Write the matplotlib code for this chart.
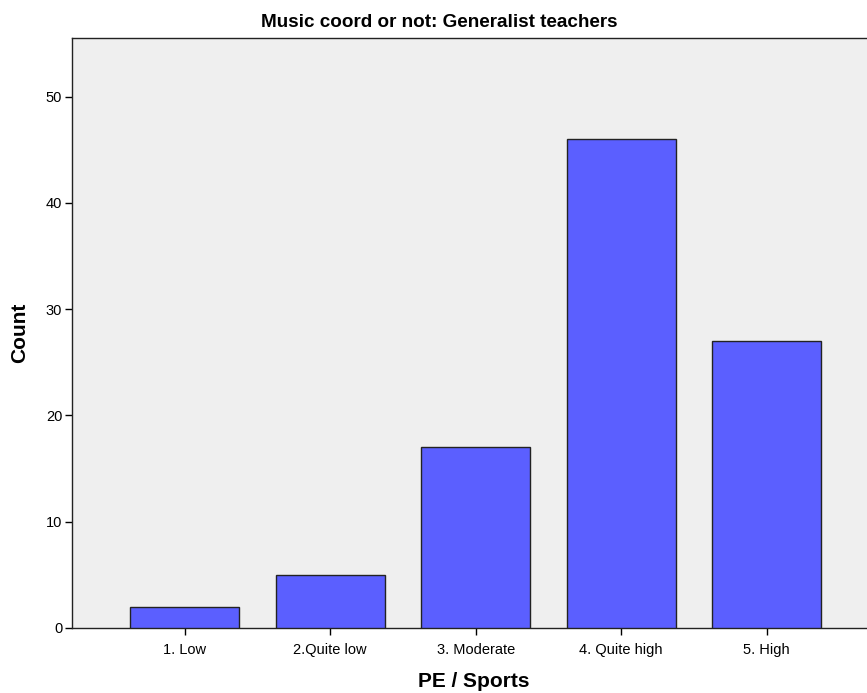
import matplotlib
matplotlib.use('Agg')
import matplotlib.pyplot as plt

plt.rcParams['font.family'] = ['Liberation Sans', 'DejaVu Sans']

CATEGORIES = ['1. Low', '2.Quite low', '3. Moderate', '4. Quite high', '5. High']
COUNTS = [2, 5, 17, 46, 27]
Y_TICKS = [0, 10, 20, 30, 40, 50]

BAR_COLOR = '#5b5fff'
BG_COLOR = '#efefef'

fig = plt.figure(figsize=(8.67, 6.93), dpi=100)
ax = fig.add_axes([0.083, 0.094, 0.917, 0.851])
ax.set_facecolor(BG_COLOR)

x = list(range(len(CATEGORIES)))
ax.bar(x, COUNTS, width=0.75, color=BAR_COLOR, edgecolor='#222222', linewidth=1.0, zorder=3)

ax.set_xlim(-0.775, 4.69)
ax.set_ylim(0, 55.5)
ax.set_xticks(x)
ax.set_xticklabels(CATEGORIES, fontsize=10.5)
ax.set_yticks(Y_TICKS)
ax.tick_params(axis='y', labelsize=10.5, length=5, width=1, direction='out', pad=2)
ax.tick_params(axis='x', length=5, width=1, direction='out', pad=6)

for side in ['left', 'bottom', 'top']:
    ax.spines[side].set_color('#222222')
    ax.spines[side].set_linewidth(1.0)
ax.spines['right'].set_visible(False)

# SPSS centres the title on the full chart frame, a bit left of this axes' centre
ax.set_title('Music coord or not: Generalist teachers', fontsize=13.6, fontweight='bold',
             pad=8, x=0.4616)
ax.set_xlabel('PE / Sports', fontsize=15, fontweight='bold')
ax.xaxis.set_label_coords(0.5057, -0.075)
ax.set_ylabel('Count', fontsize=15, fontweight='bold', labelpad=12)

fig.savefig('out.png', dpi=100)
